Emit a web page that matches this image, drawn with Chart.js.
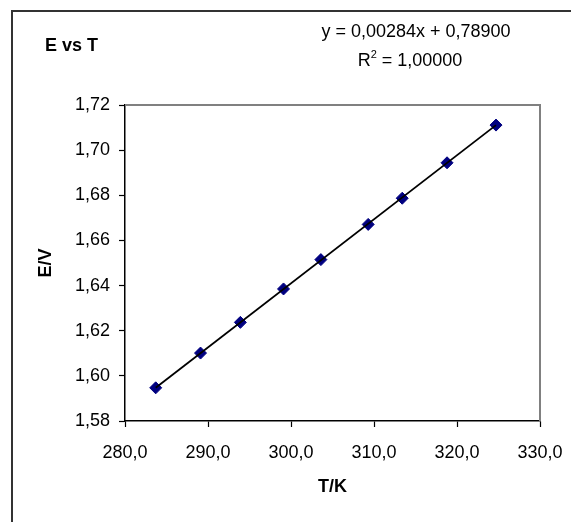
<!DOCTYPE html>
<html>
<head>
<meta charset="utf-8">
<script src="https://cdn.jsdelivr.net/npm/chart.js@4"></script>
<style>
  html, body { margin: 0; padding: 0; background: #fff; overflow: hidden; }
  #wrap { position: relative; width: 571px; height: 522px; }
</style>
</head>
<body>
<div id="wrap"><canvas id="c" width="571" height="522"></canvas></div>
<script>
// Data
const temperatures = [283.7, 289.1, 293.9, 299.1, 303.6, 309.3, 313.4, 318.8, 324.7];
const voltages     = [1.5947, 1.6101, 1.6237, 1.6385, 1.6515, 1.6671, 1.6787, 1.6944, 1.7111];
const trendX = [283.7, 324.7];
const trendY = [1.5947, 1.7111];
const xTicks = [280, 290, 300, 310, 320, 330];
const yTicks = [1.58, 1.60, 1.62, 1.64, 1.66, 1.68, 1.70, 1.72];
const chartTitle = 'E vs T';
const equationText = 'y = 0,00284x + 0,78900';
const r2Text = ['R', '2', ' = 1,00000'];
const xTitle = 'T/K';
const yTitle = 'E/V';

const FONT = '"Liberation Sans", Arial, sans-serif';

const decorations = {
  id: 'decorations',
  beforeDraw(chart) {
    const ctx = chart.ctx;
    ctx.save();
    ctx.fillStyle = '#fff';
    ctx.fillRect(0, 0, chart.width, chart.height);
    ctx.strokeStyle = '#333';
    ctx.lineWidth = 2;
    ctx.strokeRect(12, 11, 700, 700);
    ctx.restore();
  },
  afterDatasetsDraw(chart) {
    const ctx = chart.ctx;
    const a = chart.chartArea;
    ctx.save();
    ctx.strokeStyle = '#808080';
    ctx.lineWidth = 2;
    ctx.beginPath();
    ctx.moveTo(a.left, a.top);
    ctx.lineTo(a.right, a.top);
    ctx.lineTo(a.right, a.bottom);
    ctx.stroke();
    ctx.restore();
  },
  afterDraw(chart) {
    const ctx = chart.ctx;
    ctx.save();
    ctx.fillStyle = '#000';
    ctx.textBaseline = 'alphabetic';
    ctx.font = 'bold 18px ' + FONT;
    ctx.textAlign = 'left';
    ctx.fillText(chartTitle, 45, 51);
    ctx.font = '18px ' + FONT;
    ctx.textAlign = 'center';
    ctx.fillText(equationText, 416, 37);
    // R² line
    ctx.font = '18px ' + FONT;
    const wR = ctx.measureText(r2Text[0]).width;
    const wRest = ctx.measureText(r2Text[2]).width;
    ctx.font = '11px ' + FONT;
    const wSup = ctx.measureText(r2Text[1]).width;
    const total = wR + wSup + wRest;
    let x = 410 - total / 2;
    ctx.textAlign = 'left';
    ctx.font = '18px ' + FONT;
    ctx.fillText(r2Text[0], x, 66);
    x += wR;
    ctx.font = '11px ' + FONT;
    ctx.fillText(r2Text[1], x, 58);
    x += wSup;
    ctx.font = '18px ' + FONT;
    ctx.fillText(r2Text[2], x, 66);
    ctx.restore();
  }
};

new Chart(document.getElementById('c'), {
  type: 'scatter',
  data: {
    datasets: [
      {
        type: 'line',
        label: 'trend',
        data: trendX.map((x, i) => ({ x: x, y: trendY[i] })),
        borderColor: '#000',
        borderWidth: 1.8,
        pointRadius: 0,
        fill: false,
        order: 0
      },
      {
        label: 'E',
        data: temperatures.map((t, i) => ({ x: t, y: voltages[i] })),
        pointStyle: 'rectRot',
        pointRadius: 6,
        pointBackgroundColor: '#000080',
        pointBorderColor: '#000080',
        pointBorderWidth: 1,
        showLine: false,
        order: 1
      }
    ]
  },
  options: {
    responsive: false,
    animation: false,
    devicePixelRatio: 1,
    layout: { padding: { left: 0, right: 31, top: 105, bottom: 0 } },
    plugins: { legend: { display: false }, tooltip: { enabled: false }, title: { display: false } },
    scales: {
      x: {
        type: 'linear',
        min: 280, max: 330,
        afterBuildTicks(scale) { scale.ticks = xTicks.map(v => ({ value: v })); },
        afterFit(scale) { scale.height = 101; scale.paddingLeft = 0; scale.paddingRight = 0; },
        border: { display: true, color: '#000', width: 1.5 },
        grid: { display: true, drawOnChartArea: false, drawTicks: true, tickLength: 6, color: '#000', tickColor: '#000', tickWidth: 1.2 },
        ticks: {
          color: '#000', font: { family: FONT, size: 18 }, padding: 15, maxRotation: 0,
          callback: v => v.toFixed(1).replace('.', ',')
        },
        title: { display: true, text: xTitle, color: '#000', font: { family: FONT, size: 18, weight: 'bold' }, padding: { top: 0, bottom: 24 } }
      },
      y: {
        type: 'linear',
        min: 1.58, max: 1.72,
        afterBuildTicks(scale) { scale.ticks = yTicks.map(v => ({ value: v })); },
        afterFit(scale) { scale.width = 125; scale.paddingTop = 0; scale.paddingBottom = 0; },
        border: { display: true, color: '#000', width: 1.5 },
        grid: { display: true, drawOnChartArea: false, drawTicks: true, tickLength: 6, color: '#000', tickColor: '#000', tickWidth: 1.2 },
        ticks: {
          color: '#000', font: { family: FONT, size: 18 }, padding: 9,
          callback: v => v.toFixed(2).replace('.', ',')
        },
        title: { display: true, text: yTitle, color: '#000', font: { family: FONT, size: 18, weight: 'bold' }, padding: { top: 35, bottom: 0 } }
      }
    }
  },
  plugins: [decorations]
});
</script>
</body>
</html>
